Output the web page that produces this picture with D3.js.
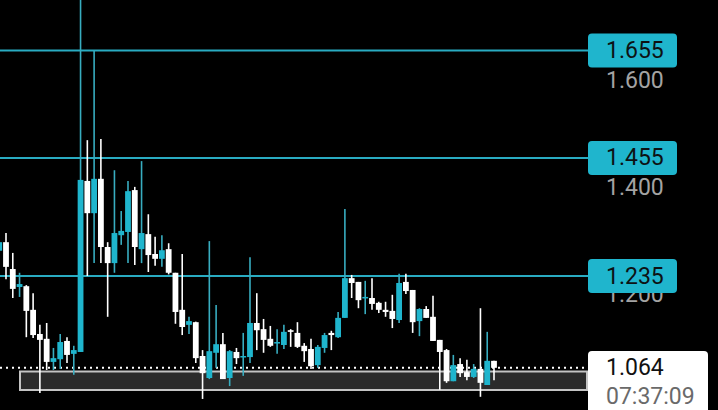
<!DOCTYPE html>
<html><head><meta charset="utf-8">
<script src="https://cdn.jsdelivr.net/npm/d3@7/dist/d3.min.js"></script>
<style>html,body{margin:0;padding:0;background:#000;overflow:hidden}svg{display:block}</style>
</head><body>
<svg id="c" width="718" height="410"></svg>
<script>
const openV=[1.282,1.298,1.248,1.2145,1.216,1.172,1.127,1.118,1.075,1.080,1.114,1.090,1.0935,1.412,1.352,1.416,1.289,1.259,1.311,1.317,1.395,1.285,1.313,1.276,1.267,1.285,1.241,1.172,1.144,1.149,1.086,1.045,1.092,1.108,1.045,1.0935,1.084,1.084,1.1475,1.136,1.118,1.110,1.1065,1.134,1.129,1.105,1.099,1.069,1.101,1.129,1.121,1.157,1.231,1.224,1.194,1.194,1.185,1.172,1.170,1.153,1.224,1.209,1.151,1.1735,1.159,1.116,1.097,1.039,1.071,1.056,1.047,1.062,1.032,1.077];
const highV=[1.301,1.315,1.278,1.241,1.218,1.203,1.144,1.1475,1.101,1.127,1.121,1.105,1.80,1.488,1.654,1.490,1.298,1.432,1.356,1.412,1.401,1.449,1.350,1.308,1.311,1.296,1.241,1.276,1.159,1.150,1.097,1.300,1.181,1.129,1.097,1.101,1.129,1.270,1.203,1.155,1.142,1.136,1.144,1.136,1.149,1.110,1.118,1.1065,1.129,1.133,1.168,1.360,1.237,1.224,1.226,1.231,1.187,1.187,1.200,1.239,1.239,1.209,1.175,1.179,1.198,1.116,1.099,1.088,1.082,1.079,1.071,1.175,1.131,1.077];
const lowV=[1.278,1.229,1.194,1.196,1.121,1.1195,1.017,1.060,1.060,1.062,1.073,1.051,1.0935,1.235,1.259,1.259,1.159,1.241,1.293,1.259,1.2555,1.259,1.2425,1.254,1.252,1.238,1.146,1.125,1.127,1.073,1.006,1.043,1.064,1.043,1.030,1.071,1.049,1.073,1.097,1.092,1.103,1.090,1.099,1.103,1.101,1.075,1.062,1.064,1.092,1.097,1.1195,1.157,1.194,1.175,1.164,1.172,1.166,1.159,1.138,1.1475,1.2015,1.129,1.123,1.157,1.114,1.023,1.036,1.039,1.047,1.041,1.045,1.010,1.032,1.041];
const closeV=[1.298,1.252,1.211,1.220,1.170,1.125,1.116,1.075,1.082,1.112,1.088,1.097,1.414,1.352,1.416,1.289,1.259,1.315,1.319,1.393,1.289,1.315,1.274,1.267,1.283,1.241,1.168,1.140,1.151,1.082,1.054,1.095,1.108,1.043,1.095,1.082,1.086,1.1475,1.134,1.116,1.105,1.112,1.131,1.131,1.103,1.095,1.067,1.103,1.125,1.125,1.157,1.231,1.222,1.190,1.196,1.183,1.172,1.168,1.155,1.222,1.207,1.149,1.1735,1.157,1.114,1.0935,1.039,1.069,1.054,1.047,1.062,1.036,1.077,1.064];
const levels=[1.655,1.455,1.235];
const tickValues=[1.2,1.4,1.6];
const lastPrice=1.064;
const countdown="07:37:09";

const svg=d3.select("#c");
const TEAL="#1fb5cd", TEAL_LINE="#29abc1", TEAL_WICK="#38adc0";
const plotRight=588;
const y=d3.scaleLinear().domain([1.235,1.655]).range([276,50.5]);
const x=d3.scaleLinear().domain([0,openV.length-1]).range([-0.78,494]);
const bw=5.8;
const font="Roboto, 'Noto Sans', sans-serif";

// tick labels
svg.append("g").selectAll("text").data(tickValues).join("text")
  .attr("x",606).attr("y",d=>y(d)).attr("dominant-baseline","central")
  .attr("font-family",font).attr("font-size",23).attr("fill","#a3a3a3")
  .text(d=>d3.format(".3f")(d));

// bottom grey range rect
svg.append("rect").attr("x",20).attr("y",371.5).attr("width",plotRight-1-20).attr("height",18.5)
  .attr("fill","#2b2b2b").attr("stroke","#c4c4c4").attr("stroke-width",2);

// dotted last price line
svg.append("line").attr("x1",0).attr("x2",plotRight).attr("y1",y(lastPrice)).attr("y2",y(lastPrice))
  .attr("stroke","#fff").attr("stroke-width",2).attr("stroke-dasharray","2,4");

// level lines
svg.append("g").selectAll("line").data(levels).join("line")
  .attr("x1",0).attr("x2",plotRight).attr("y1",d=>y(d)).attr("y2",d=>y(d))
  .attr("stroke",TEAL_LINE).attr("stroke-width",2);

// candles
const idx=d3.range(openV.length);
const g=svg.append("g");
g.selectAll("line.w").data(idx).join("line").attr("class","w")
  .attr("x1",i=>x(i)).attr("x2",i=>x(i)).attr("y1",i=>y(highV[i])).attr("y2",i=>y(lowV[i]))
  .attr("stroke",i=>closeV[i]>=openV[i]?TEAL_WICK:"#fff").attr("stroke-width",1.6);
g.selectAll("rect.b").data(idx).join("rect").attr("class","b")
  .attr("x",i=>x(i)-bw/2).attr("width",bw)
  .attr("y",i=>y(Math.max(openV[i],closeV[i])))
  .attr("height",i=>Math.max(1.5,Math.abs(y(openV[i])-y(closeV[i]))))
  .attr("fill",i=>closeV[i]>=openV[i]?TEAL:"#fff");

// level labels
const lg=svg.append("g").selectAll("g").data(levels).join("g");
lg.append("rect").attr("x",588).attr("y",d=>y(d)-17).attr("width",89).attr("height",34).attr("rx",4)
  .attr("fill",TEAL);
lg.append("text").attr("x",606).attr("y",d=>y(d)).attr("dominant-baseline","central")
  .attr("font-family",font).attr("font-size",23).attr("fill","#0d1214")
  .text(d=>d3.format(".3f")(d));

// price box
svg.append("path").attr("d","M588,414 L588,355 Q588,351 592,351 L704,351 Q708,351 708,355 L708,414 Z").attr("fill","#fff");
svg.append("text").attr("x",606).attr("y",y(lastPrice)).attr("dominant-baseline","central")
  .attr("font-family",font).attr("font-size",23).attr("fill","#111").text(d3.format(".3f")(lastPrice));
svg.append("text").attr("x",606).attr("y",396).attr("dominant-baseline","central")
  .attr("font-family",font).attr("font-size",23).attr("fill","#6a6a6a").text(countdown);
</script>
</body></html>
